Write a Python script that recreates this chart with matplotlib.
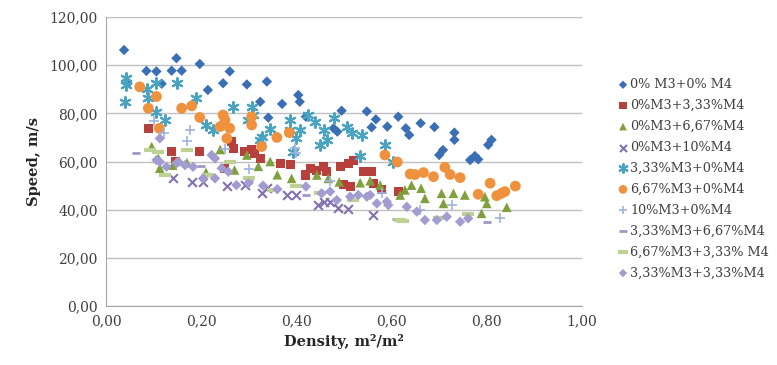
import matplotlib
matplotlib.use("Agg")
from matplotlib import pyplot
from matplotlib.ticker import FuncFormatter, MultipleLocator

# series: 0% M3 + 0% M4
d1_x = [0.038, 0.045, 0.085, 0.106, 0.117, 0.138, 0.148, 0.159, 0.197, 0.214, 0.246, 0.260, 0.296,
        0.324, 0.338, 0.341, 0.370, 0.404, 0.407, 0.420, 0.478, 0.486, 0.495, 0.548, 0.558, 0.567,
        0.591, 0.614, 0.630, 0.637, 0.661, 0.690, 0.700, 0.708, 0.732, 0.732, 0.765, 0.775, 0.782,
        0.803, 0.810]
d1_y = [106.3, 92.3, 97.6, 97.4, 92.3, 97.7, 102.9, 97.7, 100.5, 89.7, 92.5, 97.4, 92.0,
        84.8, 93.2, 78.2, 83.9, 87.6, 84.8, 78.6, 73.8, 72.4, 81.1, 80.8, 74.2, 77.5,
        74.5, 78.6, 73.8, 71.0, 75.9, 74.3, 62.7, 64.8, 72.0, 69.0, 60.6, 62.3, 60.9,
        66.9, 69.0]

# 0%M3+3,33%M4
d2_x = [0.089, 0.138, 0.145, 0.197, 0.250, 0.264, 0.267, 0.292, 0.306, 0.313, 0.324, 0.366, 0.387,
        0.420, 0.429, 0.443, 0.457, 0.464, 0.492, 0.499, 0.509, 0.513, 0.520, 0.541, 0.558, 0.562,
        0.579, 0.614]
d2_y = [73.8, 64.1, 60.2, 64.2, 57.2, 68.2, 65.5, 64.1, 64.8, 63.4, 61.3, 59.3, 58.6,
        54.4, 57.2, 56.1, 57.8, 55.8, 57.8, 50.5, 59.3, 49.6, 60.6, 55.8, 55.8, 51.0,
        48.2, 47.5]

# 0%M3+6,67%M4
d3_x = [0.096, 0.110, 0.113, 0.140, 0.170, 0.210, 0.240, 0.270, 0.296, 0.320, 0.345, 0.360, 0.390,
        0.443, 0.467, 0.490, 0.534, 0.555, 0.576, 0.618, 0.628, 0.642, 0.662, 0.670, 0.705, 0.709,
        0.730, 0.754, 0.789, 0.796, 0.800, 0.842]
d3_y = [66.2, 61.3, 57.2, 58.5, 59.5, 55.5, 65.0, 56.5, 62.7, 58.0, 60.0, 54.5, 53.0,
        54.4, 53.0, 51.5, 51.2, 52.0, 50.2, 46.1, 48.2, 50.2, 48.9, 44.7, 46.8, 42.6,
        46.8, 46.1, 38.5, 45.4, 42.6, 41.0]

# 0%M3+10%M4
d4_x = [0.141, 0.180, 0.204, 0.254, 0.292, 0.327, 0.338, 0.380, 0.400, 0.446, 0.457, 0.471, 0.488,
        0.509, 0.562]
d4_y = [53.0, 51.5, 51.5, 49.8, 50.2, 46.8, 48.9, 46.1, 46.1, 41.9, 43.3, 43.3, 40.8,
        40.2, 37.8]

# 3,33%M3+0%M4
d5_x = [0.040, 0.043, 0.043, 0.087, 0.089, 0.106, 0.106, 0.124, 0.150, 0.190, 0.211, 0.225, 0.267,
        0.299, 0.306, 0.309, 0.324, 0.327, 0.345, 0.387, 0.387, 0.393, 0.400, 0.408, 0.425, 0.439,
        0.450, 0.457, 0.464, 0.478, 0.506, 0.516, 0.537, 0.534, 0.586, 0.604]
d5_y = [84.8, 94.5, 91.8, 90.0, 86.2, 92.5, 80.7, 77.2, 92.6, 86.2, 75.2, 73.1, 82.8,
        77.2, 82.5, 79.3, 68.9, 70.3, 73.5, 77.2, 73.1, 64.1, 69.6, 73.1, 79.3, 76.5,
        66.9, 73.1, 68.9, 78.0, 74.5, 71.7, 71.0, 62.3, 66.9, 60.0]

# 6,67%M3+0%M4
d6_x = [0.071, 0.089, 0.106, 0.112, 0.159, 0.180, 0.197, 0.246, 0.250, 0.240, 0.260, 0.254, 0.306,
        0.306, 0.327, 0.359, 0.385, 0.586, 0.612, 0.639, 0.649, 0.667, 0.688, 0.712, 0.723, 0.744,
        0.782, 0.807, 0.821, 0.831, 0.838, 0.860]
d6_y = [91.0, 82.1, 87.0, 73.8, 82.1, 83.1, 78.3, 79.3, 77.2, 74.5, 73.8, 69.6, 78.6,
        75.2, 66.2, 70.0, 72.0, 62.7, 59.8, 54.8, 54.6, 55.4, 53.7, 57.6, 54.6, 53.3,
        46.4, 51.0, 45.8, 46.8, 47.5, 49.8]

# 10%M3+0%M4
d7_x = [0.100, 0.122, 0.170, 0.176, 0.250, 0.300, 0.397, 0.400, 0.470, 0.580, 0.660, 0.726, 0.828]
d7_y = [77.0, 71.7, 68.5, 73.1, 65.0, 57.0, 65.5, 63.4, 52.0, 47.0, 40.0, 41.9, 36.4]

# 3,33%M3+6,67%M4
d8_x = [0.063, 0.200, 0.300, 0.420, 0.610, 0.800]
d8_y = [63.6, 58.0, 52.0, 46.0, 36.0, 35.0]

# 6,67%M3+3,33% M4
d9_x = [0.092, 0.110, 0.124, 0.170, 0.215, 0.260, 0.300, 0.350, 0.400, 0.450, 0.520, 0.618, 0.624,
        0.700, 0.760]
d9_y = [64.8, 64.1, 54.4, 64.8, 54.4, 60.0, 53.0, 48.0, 50.0, 47.0, 44.0, 35.7, 35.4,
        36.5, 38.0]

# 3,33%M3+3,33%M4
d10_x = [0.106, 0.113, 0.113, 0.127, 0.148, 0.152, 0.166, 0.183, 0.204, 0.222, 0.229, 0.229, 0.243,
         0.257, 0.274, 0.299, 0.330, 0.360, 0.420, 0.453, 0.471, 0.485, 0.513, 0.530, 0.548, 0.555,
         0.569, 0.590, 0.593, 0.632, 0.653, 0.670, 0.695, 0.716, 0.744, 0.761]
d10_y = [60.6, 69.6, 59.9, 57.8, 59.3, 59.9, 58.5, 57.8, 53.0, 62.7, 61.3, 53.0, 57.2,
         55.8, 50.2, 51.0, 50.0, 48.5, 49.6, 46.8, 47.5, 44.0, 45.4, 46.1, 45.4, 46.1,
         42.6, 43.3, 41.9, 41.2, 39.2, 35.7, 35.7, 37.1, 35.0, 36.4]

labels = ["0% M3+0% M4", "0%M3+3,33%M4", "0%M3+6,67%M4", "0%M3+10%M4", "3,33%M3+0%M4",
          "6,67%M3+0%M4", "10%M3+0%M4", "3,33%M3+6,67%M4", "6,67%M3+3,33% M4", "3,33%M3+3,33%M4"]

pyplot.rcParams['font.family'] = ['DejaVu Serif']

fig = pyplot.figure(figsize=(7.77, 3.65), dpi=100)
ax = fig.add_axes([0.1364, 0.1616, 0.6126, 0.7918])

# drawn in legend order, later series on top
series = [
    (d1_x, d1_y, 'D', '#3A6FB5', 28, 1.0),
    (d2_x, d2_y, 's', '#B7403D', 42, 1.0),
    (d3_x, d3_y, '^', '#7FA03C', 48, 1.0),
    (d4_x, d4_y, 'x', '#8470B0', 40, 1.5),
    (d5_x, d5_y, (6, 2, 0), '#4AA3C0', 60, 1.5),
    (d6_x, d6_y, 'o', '#F0913E', 60, 1.0),
    (d7_x, d7_y, '+', '#9DB4DD', 60, 1.2),
    (d8_x, d8_y, '_', '#9E97C8', 40, 2.0),
    (d9_x, d9_y, '_', '#BCD193', 80, 3.0),
    (d10_x, d10_y, 'D', '#A29CD0', 28, 1.0),
]
for (xs, ys, m, c, s, lw), lab in zip(series, labels):
    if m in ('x', '+', '_') or isinstance(m, tuple):
        ax.scatter(xs, ys, marker=m, s=s, color=c, linewidths=lw, label=lab, zorder=3)
    else:
        ax.scatter(xs, ys, marker=m, s=s, color=c, edgecolors='none', label=lab, zorder=3)

ax.set_xlim(0, 1.0)
ax.set_ylim(0, 120)
ax.xaxis.set_major_locator(MultipleLocator(0.2))
ax.yaxis.set_major_locator(MultipleLocator(20))
fmt = lambda v, p: ('%.2f' % v).replace('.', ',')
ax.xaxis.set_major_formatter(FuncFormatter(fmt))
ax.yaxis.set_major_formatter(FuncFormatter(fmt))
ax.grid(axis='y', color='#BFBFBF', linewidth=1.0, zorder=0)
ax.set_axisbelow(True)
for side in ('top', 'right'):
    ax.spines[side].set_visible(False)
for side in ('left', 'bottom'):
    ax.spines[side].set_color('#A6A6A6')
ax.tick_params(length=0, labelsize=10, colors='#404040', pad=6)

ax.set_xlabel('Density, m\u00b2/m\u00b2', fontsize=10.5, fontweight='bold', color='#262626', labelpad=4)
ax.set_ylabel('Speed, m/s', fontsize=10.5, fontweight='bold', color='#262626', labelpad=6)

leg = fig.legend(loc='upper left', bbox_to_anchor=(0.787, 0.800), frameon=False, fontsize=9.2,
                 labelspacing=0.62, handletextpad=0.05, handlelength=1.0, borderaxespad=0,
                 scatterpoints=1, markerscale=0.8)
for t in leg.get_texts():
    t.set_color('#404040')

fig.savefig('out.png', dpi=100)
